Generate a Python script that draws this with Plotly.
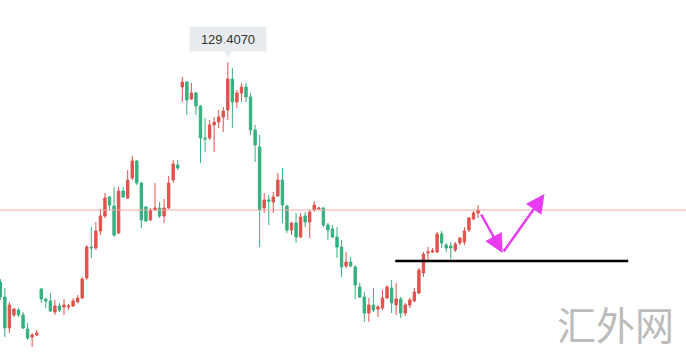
import plotly.graph_objects as go

# OHLC data (candle index 0..105)
open_ = [125.01,124.71,124.09,124.35,124.45,124.35,124.07,123.91,123.95,124.87,
         124.67,124.63,124.41,124.53,124.51,124.51,124.53,124.61,124.69,125.09,
         125.71,125.69,126.03,126.33,126.71,126.53,125.99,126.83,126.69,127.09,
         127.43,126.99,126.51,126.25,126.45,126.49,126.33,126.49,127.05,127.35,
         128.91,129.01,128.67,128.79,128.53,127.89,127.89,128.15,128.21,128.31,
         128.45,129.07,128.61,128.79,128.91,128.71,128.05,127.71,126.49,126.65,
         126.61,126.73,127.05,126.53,126.05,126.19,125.91,126.33,126.21,126.45,
         126.47,126.49,126.15,126.07,125.91,125.71,125.33,125.41,125.31,124.91,
         124.71,124.39,124.55,124.47,124.49,124.69,124.89,124.55,124.67,124.39,
         124.55,124.63,124.79,125.19,125.59,125.61,125.61,125.97,125.75,125.73,
         125.65,125.79,125.81,126.05,126.27,126.39]
high = [125.07,124.89,124.61,124.49,124.49,124.41,124.19,123.99,124.05,124.89,
        124.69,124.79,124.65,124.59,124.67,124.57,124.69,124.75,125.11,125.75,
        126.11,126.21,126.47,126.79,126.73,126.91,126.91,126.91,127.25,127.53,
        127.45,127.01,126.53,126.49,126.99,126.61,126.67,127.13,127.45,127.45,
        129.11,129.03,128.99,128.81,128.55,128.29,128.25,128.31,128.45,128.51,
        129.407,129.29,128.85,128.99,128.99,128.79,128.15,127.95,126.79,126.75,
        126.81,127.19,127.29,126.55,126.21,126.39,126.39,126.41,126.45,126.63,
        126.51,126.51,126.19,126.15,126.11,125.85,125.61,125.51,125.35,124.99,
        124.81,124.69,124.89,124.55,124.85,124.95,125.05,124.99,124.71,124.59,
        124.69,124.89,125.29,125.61,125.71,125.69,126.01,126.03,125.79,125.81,
        125.81,125.91,126.11,126.31,126.43,126.55]
low = [124.65,123.91,123.99,124.31,124.31,124.07,123.85,123.71,123.93,124.59,
       124.49,124.41,124.35,124.41,124.35,124.45,124.51,124.59,124.67,125.05,
       125.49,125.65,125.95,126.29,126.45,125.91,125.97,126.69,126.67,127.05,
       126.95,126.09,126.21,126.23,126.43,126.29,126.19,126.47,126.99,127.25,
       128.61,128.35,128.65,128.35,127.39,127.61,127.85,127.61,128.09,128.01,
       128.25,128.09,128.49,128.61,128.61,127.95,127.41,125.71,126.39,126.15,
       126.39,126.71,126.19,125.99,125.95,125.79,125.89,126.11,125.89,126.41,
       126.45,126.11,125.85,125.89,125.49,125.11,125.29,125.31,124.67,124.69,
       124.21,124.21,124.41,124.31,124.45,124.67,124.39,124.35,124.29,124.33,
       124.49,124.61,124.77,125.11,125.41,125.59,125.59,125.69,125.61,125.47,
       125.61,125.75,125.75,126.01,126.25,126.29]
close = [124.71,124.09,124.55,124.47,124.35,124.09,123.89,123.95,123.99,124.67,
         124.63,124.43,124.53,124.45,124.55,124.53,124.63,124.69,125.07,125.71,
         125.69,126.03,126.33,126.69,126.55,125.95,126.83,126.71,127.05,127.43,
         126.99,126.25,126.23,126.45,126.49,126.33,126.49,126.99,127.37,127.29,
         129.01,128.65,128.79,128.53,127.89,127.87,128.15,128.21,128.31,128.43,
         129.07,128.61,128.79,128.91,128.71,128.05,127.75,126.45,126.65,126.63,
         126.71,127.05,126.55,126.05,126.19,125.91,126.31,126.21,126.41,126.55,
         126.49,126.15,126.05,125.91,125.71,125.31,125.41,125.33,124.95,124.71,
         124.39,124.55,124.45,124.51,124.69,124.91,124.59,124.67,124.39,124.55,
         124.65,124.81,125.25,125.57,125.61,125.63,125.97,125.79,125.69,125.69,
         125.77,125.89,126.03,126.29,126.39,126.45]
idx = list(range(len(close)))

# annotations data
support_x = [86.8, 138.0]
support_level = 125.43
path_x = [105.5, 110.4, 119.6]
path_y = [126.39, 125.59, 126.77]

RED = "#e0534c"
GREEN = "#35b07f"

fig = go.Figure()
fig.add_trace(go.Candlestick(
    x=idx, open=open_, high=high, low=low, close=close,
    increasing=dict(line=dict(color=RED, width=1), fillcolor=RED),
    decreasing=dict(line=dict(color=GREEN, width=1), fillcolor=GREEN),
    whiskerwidth=0, hoverinfo="skip", showlegend=False,
))

# last price line
fig.add_hline(y=close[-1], line=dict(color="#f0a8a8", width=1))

# support line
fig.add_trace(go.Scatter(x=support_x, y=[support_level, support_level], mode="lines",
                         line=dict(color="#000000", width=2.5), hoverinfo="skip",
                         showlegend=False))

# magenta arrows
MAG = "#e83cf0"
for i in range(len(path_x) - 1):
    fig.add_annotation(x=path_x[i + 1], y=path_y[i + 1], ax=path_x[i], ay=path_y[i],
                       xref="x", yref="y", axref="x", ayref="y",
                       showarrow=True, arrowhead=2, arrowsize=1.5, arrowwidth=2.5,
                       arrowcolor=MAG, text="")

# max label box and pointer
imax = high.index(max(high))
BOX = "#e9ecef"
fig.add_annotation(x=imax, y=high[imax], xref="x", yref="y", text=f"{high[imax]:.4f}",
                   showarrow=False, yanchor="bottom", yshift=10,
                   font=dict(family="Arial, Liberation Sans", size=13, color="#333333"),
                   bgcolor=BOX, borderpad=5, width=66, height=14)
fig.add_annotation(x=imax, y=high[imax], xref="x", yref="y", text="",
                   showarrow=True, ax=0, ay=-11, standoff=4,
                   arrowhead=2, arrowsize=2.0, arrowwidth=1.5, arrowcolor=BOX)

# watermark
fig.add_annotation(x=615 / 686, y=(355 - 323) / 355, xref="paper", yref="paper",
                   xanchor="center", yanchor="middle", text="汇外网", showarrow=False,
                   font=dict(family="Noto Sans CJK SC", size=39, color="#bcbcbc"))

fig.update_layout(
    width=686, height=355, margin=dict(l=0, r=0, t=0, b=0),
    paper_bgcolor="white", plot_bgcolor="white",
    xaxis=dict(range=[-0.066, 150.7], visible=False, rangeslider=dict(visible=False)),
    yaxis=dict(range=[123.55, 130.65], visible=False),
    boxgap=0.25,
)

fig.write_html("out.html", config={"displayModeBar": False},
               post_script="document.body.style.margin='0';")
